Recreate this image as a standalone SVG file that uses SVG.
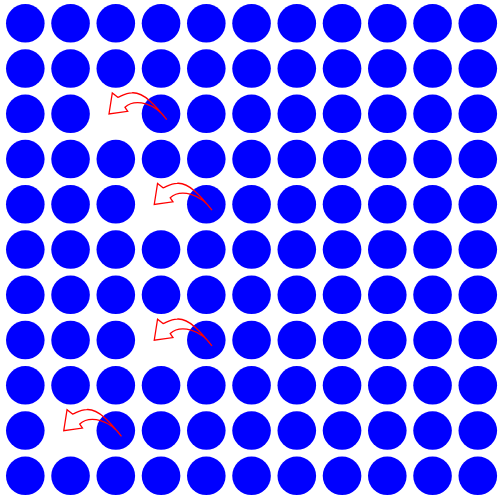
<svg xmlns="http://www.w3.org/2000/svg" xmlns:xlink="http://www.w3.org/1999/xlink" width="498" height="496" viewBox="0 0 498 496">
<style>
.d{fill:#0000FF}
.a{fill:none;stroke:#FF0000;stroke-width:1.3;stroke-linejoin:miter}
</style>
<defs>
<path id="arr" class="a" d="M50.9,5.9 C40,-8 28,-22 16,-21 C10,-21 6,-18 2,-16.5 L-3.5,-20.8 L-6.8,0.2 L11.9,-2.5 L9.2,-6.5 C14,-11 22,-12 30,-10 C40,-7 47,0 50.9,5.9 Z"/>
</defs>
<rect width="498" height="496" fill="#fff"/>
<g id="dots">
<g id="row0"><circle class="d" cx="25.3" cy="23.3" r="19.3"/><circle class="d" cx="70.55" cy="23.3" r="19.3"/><circle class="d" cx="115.8" cy="23.3" r="19.3"/><circle class="d" cx="161.05" cy="23.3" r="19.3"/><circle class="d" cx="206.3" cy="23.3" r="19.3"/><circle class="d" cx="251.55" cy="23.3" r="19.3"/><circle class="d" cx="296.8" cy="23.3" r="19.3"/><circle class="d" cx="342.05" cy="23.3" r="19.3"/><circle class="d" cx="387.3" cy="23.3" r="19.3"/><circle class="d" cx="432.55" cy="23.3" r="19.3"/><circle class="d" cx="477.8" cy="23.3" r="19.3"/></g>
<g id="row1"><circle class="d" cx="25.3" cy="68.55" r="19.3"/><circle class="d" cx="70.55" cy="68.55" r="19.3"/><circle class="d" cx="115.8" cy="68.55" r="19.3"/><circle class="d" cx="161.05" cy="68.55" r="19.3"/><circle class="d" cx="206.3" cy="68.55" r="19.3"/><circle class="d" cx="251.55" cy="68.55" r="19.3"/><circle class="d" cx="296.8" cy="68.55" r="19.3"/><circle class="d" cx="342.05" cy="68.55" r="19.3"/><circle class="d" cx="387.3" cy="68.55" r="19.3"/><circle class="d" cx="432.55" cy="68.55" r="19.3"/><circle class="d" cx="477.8" cy="68.55" r="19.3"/></g>
<g id="row2"><circle class="d" cx="25.3" cy="113.8" r="19.3"/><circle class="d" cx="70.55" cy="113.8" r="19.3"/><circle class="d" cx="161.05" cy="113.8" r="19.3"/><circle class="d" cx="206.3" cy="113.8" r="19.3"/><circle class="d" cx="251.55" cy="113.8" r="19.3"/><circle class="d" cx="296.8" cy="113.8" r="19.3"/><circle class="d" cx="342.05" cy="113.8" r="19.3"/><circle class="d" cx="387.3" cy="113.8" r="19.3"/><circle class="d" cx="432.55" cy="113.8" r="19.3"/><circle class="d" cx="477.8" cy="113.8" r="19.3"/></g>
<g id="row3"><circle class="d" cx="25.3" cy="159.05" r="19.3"/><circle class="d" cx="70.55" cy="159.05" r="19.3"/><circle class="d" cx="115.8" cy="159.05" r="19.3"/><circle class="d" cx="161.05" cy="159.05" r="19.3"/><circle class="d" cx="206.3" cy="159.05" r="19.3"/><circle class="d" cx="251.55" cy="159.05" r="19.3"/><circle class="d" cx="296.8" cy="159.05" r="19.3"/><circle class="d" cx="342.05" cy="159.05" r="19.3"/><circle class="d" cx="387.3" cy="159.05" r="19.3"/><circle class="d" cx="432.55" cy="159.05" r="19.3"/><circle class="d" cx="477.8" cy="159.05" r="19.3"/></g>
<g id="row4"><circle class="d" cx="25.3" cy="204.3" r="19.3"/><circle class="d" cx="70.55" cy="204.3" r="19.3"/><circle class="d" cx="115.8" cy="204.3" r="19.3"/><circle class="d" cx="206.3" cy="204.3" r="19.3"/><circle class="d" cx="251.55" cy="204.3" r="19.3"/><circle class="d" cx="296.8" cy="204.3" r="19.3"/><circle class="d" cx="342.05" cy="204.3" r="19.3"/><circle class="d" cx="387.3" cy="204.3" r="19.3"/><circle class="d" cx="432.55" cy="204.3" r="19.3"/><circle class="d" cx="477.8" cy="204.3" r="19.3"/></g>
<g id="row5"><circle class="d" cx="25.3" cy="249.55" r="19.3"/><circle class="d" cx="70.55" cy="249.55" r="19.3"/><circle class="d" cx="115.8" cy="249.55" r="19.3"/><circle class="d" cx="161.05" cy="249.55" r="19.3"/><circle class="d" cx="206.3" cy="249.55" r="19.3"/><circle class="d" cx="251.55" cy="249.55" r="19.3"/><circle class="d" cx="296.8" cy="249.55" r="19.3"/><circle class="d" cx="342.05" cy="249.55" r="19.3"/><circle class="d" cx="387.3" cy="249.55" r="19.3"/><circle class="d" cx="432.55" cy="249.55" r="19.3"/><circle class="d" cx="477.8" cy="249.55" r="19.3"/></g>
<g id="row6"><circle class="d" cx="25.3" cy="294.8" r="19.3"/><circle class="d" cx="70.55" cy="294.8" r="19.3"/><circle class="d" cx="115.8" cy="294.8" r="19.3"/><circle class="d" cx="161.05" cy="294.8" r="19.3"/><circle class="d" cx="206.3" cy="294.8" r="19.3"/><circle class="d" cx="251.55" cy="294.8" r="19.3"/><circle class="d" cx="296.8" cy="294.8" r="19.3"/><circle class="d" cx="342.05" cy="294.8" r="19.3"/><circle class="d" cx="387.3" cy="294.8" r="19.3"/><circle class="d" cx="432.55" cy="294.8" r="19.3"/><circle class="d" cx="477.8" cy="294.8" r="19.3"/></g>
<g id="row7"><circle class="d" cx="25.3" cy="340.05" r="19.3"/><circle class="d" cx="70.55" cy="340.05" r="19.3"/><circle class="d" cx="115.8" cy="340.05" r="19.3"/><circle class="d" cx="206.3" cy="340.05" r="19.3"/><circle class="d" cx="251.55" cy="340.05" r="19.3"/><circle class="d" cx="296.8" cy="340.05" r="19.3"/><circle class="d" cx="342.05" cy="340.05" r="19.3"/><circle class="d" cx="387.3" cy="340.05" r="19.3"/><circle class="d" cx="432.55" cy="340.05" r="19.3"/><circle class="d" cx="477.8" cy="340.05" r="19.3"/></g>
<g id="row8"><circle class="d" cx="25.3" cy="385.3" r="19.3"/><circle class="d" cx="70.55" cy="385.3" r="19.3"/><circle class="d" cx="115.8" cy="385.3" r="19.3"/><circle class="d" cx="161.05" cy="385.3" r="19.3"/><circle class="d" cx="206.3" cy="385.3" r="19.3"/><circle class="d" cx="251.55" cy="385.3" r="19.3"/><circle class="d" cx="296.8" cy="385.3" r="19.3"/><circle class="d" cx="342.05" cy="385.3" r="19.3"/><circle class="d" cx="387.3" cy="385.3" r="19.3"/><circle class="d" cx="432.55" cy="385.3" r="19.3"/><circle class="d" cx="477.8" cy="385.3" r="19.3"/></g>
<g id="row9"><circle class="d" cx="25.3" cy="430.55" r="19.3"/><circle class="d" cx="115.8" cy="430.55" r="19.3"/><circle class="d" cx="161.05" cy="430.55" r="19.3"/><circle class="d" cx="206.3" cy="430.55" r="19.3"/><circle class="d" cx="251.55" cy="430.55" r="19.3"/><circle class="d" cx="296.8" cy="430.55" r="19.3"/><circle class="d" cx="342.05" cy="430.55" r="19.3"/><circle class="d" cx="387.3" cy="430.55" r="19.3"/><circle class="d" cx="432.55" cy="430.55" r="19.3"/><circle class="d" cx="477.8" cy="430.55" r="19.3"/></g>
<g id="row10"><circle class="d" cx="25.3" cy="475.8" r="19.3"/><circle class="d" cx="70.55" cy="475.8" r="19.3"/><circle class="d" cx="115.8" cy="475.8" r="19.3"/><circle class="d" cx="161.05" cy="475.8" r="19.3"/><circle class="d" cx="206.3" cy="475.8" r="19.3"/><circle class="d" cx="251.55" cy="475.8" r="19.3"/><circle class="d" cx="296.8" cy="475.8" r="19.3"/><circle class="d" cx="342.05" cy="475.8" r="19.3"/><circle class="d" cx="387.3" cy="475.8" r="19.3"/><circle class="d" cx="432.55" cy="475.8" r="19.3"/><circle class="d" cx="477.8" cy="475.8" r="19.3"/></g>
</g>
<g id="arrows">
<use xlink:href="#arr" href="#arr" transform="translate(115.8,113.8)"/>
<use xlink:href="#arr" href="#arr" transform="translate(161.05,204.3)"/>
<use xlink:href="#arr" href="#arr" transform="translate(161.05,340.05)"/>
<use xlink:href="#arr" href="#arr" transform="translate(70.55,430.55)"/>
</g>
</svg>
